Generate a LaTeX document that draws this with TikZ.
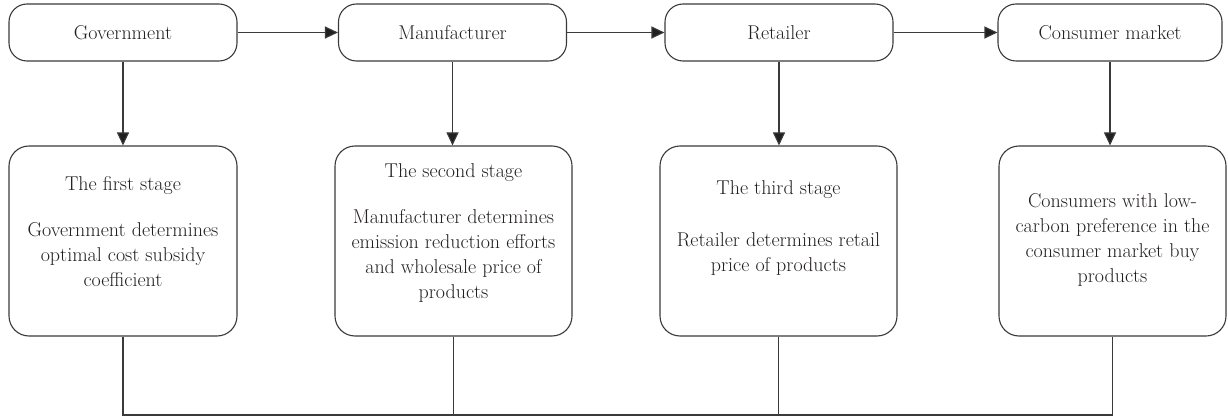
\documentclass[tikz,border=0pt]{standalone}
\usepackage{fontspec}
\usetikzlibrary{arrows.meta}
\definecolor{ink}{HTML}{231F20}
\definecolor{edge}{HTML}{3A3A3A}
\begin{document}
\begin{tikzpicture}[x=1pt,y=1pt,
  every node/.style={font=\fontsize{20}{25}\selectfont, text=ink},
  topbox/.style={draw=edge, line width=1.1pt, rounded corners=18pt, minimum width=228pt, minimum height=57pt, inner sep=0pt},
  stagebox/.style={draw=edge, line width=1.1pt, rounded corners=20pt, minimum height=190pt, inner sep=0pt},
  stagetext/.style={align=center, inner sep=0pt},
  arr/.style={draw=edge, line width=1.1pt, -{Triangle[length=13pt,width=12pt,fill=ink]}},
  ln/.style={draw=edge, line width=1.1pt}]
\useasboundingbox (0,0) rectangle (1228,-417);
% top row
\node[topbox] (g) at (123,-32.5) {Government};
\node[topbox] (m) at (452.5,-32.5) {Manufacturer};
\node[topbox] (r) at (779,-32.5) {Retailer};
\node[topbox, minimum width=224pt] (c) at (1110,-32.5) {Consumer market};
% stage boxes
\node[stagebox, minimum width=228pt] (s1) at (123,-241) {};
\node[stagebox, minimum width=237pt] (s2) at (453.5,-241) {};
\node[stagebox, minimum width=237pt] (s3) at (778.5,-241) {};
\node[stagebox, minimum width=227pt] (s4) at (1112.5,-241) {};
% stage texts
\node[stagetext] (t1) at (123,-231.5) {The first stage\\[21pt]Government determines\\optimal cost subsidy\\coefficient};
\node[stagetext] (t2) at (453.5,-233) {The second stage\\[21pt]Manufacturer determines\\emission reduction efforts\\and wholesale price of\\products};
\node[stagetext] (t3) at (778.5,-228.5) {The third stage\\[27pt]Retailer determines retail\\price of products};
\node[stagetext] (t4) at (1112.5,-240) {Consumers with low-\\carbon preference in the\\consumer market buy\\products};
% horizontal arrows
\draw[arr] (g.east) -- (m.west);
\draw[arr] (m.east) -- (r.west);
\draw[arr] (r.east) -- (c.west);
% vertical arrows
\draw[arr] (g.south) -- (g.south |- s1.north);
\draw[arr] (m.south) -- (m.south |- s2.north);
\draw[arr] (r.south) -- (r.south |- s3.north);
\draw[arr] (c.south) -- (c.south |- s4.north);
% bottom collector
\coordinate (b1) at (123,-415);
\coordinate (b2) at (453.5,-415);
\coordinate (b3) at (778.5,-415);
\coordinate (b4) at (1112.5,-415);
\draw[ln] (s1.south) -- (b1) -- (b4) -- (s4.south);
\draw[ln] (s2.south) -- (b2);
\draw[ln] (s3.south) -- (b3);
\end{tikzpicture}
\end{document}
